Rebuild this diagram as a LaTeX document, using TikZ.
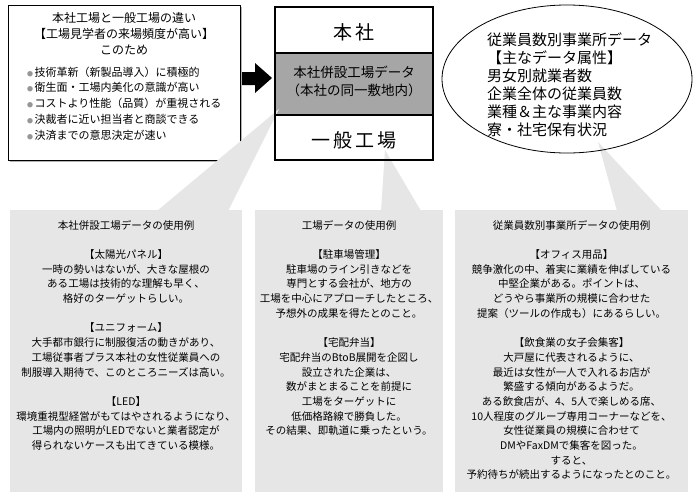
\documentclass[tikz,border=0pt]{standalone}
\usepackage{fontspec}
\setmainfont{Noto Sans CJK JP}
\usetikzlibrary{shapes.geometric}
\definecolor{panelgray}{RGB}{230,230,230}
\definecolor{midgray}{RGB}{166,166,166}
\definecolor{dotgray}{RGB}{150,150,150}
\newcommand\gdot{{\color{dotgray}\fontsize{6}{6}\selectfont ●}\hspace{1.5pt}}
\begin{document}
\begin{tikzpicture}[x=1pt,y=-1pt,
  every node/.style={inner sep=0pt,outer sep=0pt},
  panelbox/.style={fill=panelgray,minimum height=282pt},
  paneltext/.style={align=center,font=\fontsize{10.5}{14.7}\selectfont},
  stackpart/.style={minimum width=158pt},
  stackline/.style={line width=1.6pt}]
\useasboundingbox[fill=white] (0,0) rectangle (700,501);

% top-left box
\draw[gray!60,line width=1.2pt] (10,161) -- (241,161) -- (241,7);
\node[draw=black,line width=0.8pt,fill=white,minimum width=232pt,minimum height=155pt] (diff) at (124,82.5) {};
\node[align=center,font=\fontsize{12}{16}\selectfont] (difftitle) at (124,34)
  {本社工場と一般工場の違い\\【工場見学者の来場頻度が高い】\\このため};
\node[align=left,anchor=west,font=\fontsize{11}{15.8}\selectfont] (difflist) at (27,103.5)
  {\gdot 技術革新（新製品導入）に積極的\\
   \gdot 衛生面・工場内美化の意識が高い\\
   \gdot コストより性能（品質）が重視される\\
   \gdot 決裁者に近い担当者と商談できる\\
   \gdot 決済までの意思決定が速い};

% arrow
\fill[black] (242,72) -- (255,72) -- (255,63) -- (272,78) -- (255,93) -- (255,85) -- (242,85) -- cycle;

% stack fills
\node[stackpart,fill=white,minimum height=46pt] (hq) at (354,30) {};
\node[stackpart,fill=midgray,minimum height=62pt] (combo) at (354,84) {};
\node[stackpart,fill=white,minimum height=45pt] (general) at (354,137.5) {};
\node[font=\fontsize{19}{19}\selectfont] (hqlabel) at (354,32) {本\hspace{3pt}社};
\node[align=center,font=\fontsize{13.5}{18}\selectfont] (combolabel) at (354,81)
  {本社併設工場データ\\（本社の同一敷地内）};
\node[font=\fontsize{19}{19}\selectfont] (genlabel) at (354,140) {一\hspace{3pt}般\hspace{3pt}工\hspace{3pt}場};

% panels
\node[panelbox,minimum width=232pt] (ex1) at (126,351) {};
\node[panelbox,minimum width=188pt] (ex2) at (349,351) {};
\node[panelbox,minimum width=233pt] (ex3) at (571.5,351) {};

% callout tails
\fill[panelgray] (279,109) -- (157,211) -- (228,211) -- cycle;
\fill[panelgray] (385,150) -- (381,211) -- (421,211) -- cycle;
\fill[panelgray] (598,142) -- (617,211) -- (662,211) -- cycle;

% stack borders
\draw[stackline] (hq.north west) rectangle (general.south east);
\draw[stackline] (combo.north west) -- (combo.north east);
\draw[stackline] (combo.south west) -- (combo.south east);

% ellipse
\node[draw,ellipse,line width=0.8pt,minimum width=250pt,minimum height=148pt] (attr) at (567,79) {};
\node[align=left,anchor=west,font=\fontsize{15}{18}\selectfont] (attrtext) at (487,85)
  {従業員数別事業所データ\\【主なデータ属性】\\男女別就業者数\\企業全体の従業員数\\業種＆主な事業内容\\寮・社宅保有状況};

% panel texts
\node[paneltext] (ex1text) at (126,335.25)
  {本社併設工場データの使用例\\[14.7pt]
   【太陽光パネル】\\
   一時の勢いはないが、大きな屋根の\\
   ある工場は技術的な理解も早く、\\
   格好のターゲットらしい。\\[14.7pt]
   【ユニフォーム】\\
   大手都市銀行に制服復活の動きがあり、\\
   工場従事者プラス本社の女性従業員への\\
   制服導入期待で、このところニーズは高い。\\[14.7pt]
   【LED】\\
   環境重視型経営がもてはやされるようになり、\\
   工場内の照明がLEDでないと業者認定が\\
   得られないケースも出てきている模様。};
\node[paneltext] (ex2text) at (349,327.9)
  {工場データの使用例\\[14.7pt]
   【駐車場管理】\\
   駐車場のライン引きなどを\\
   専門とする会社が、地方の\\
   工場を中心にアプローチしたところ、\\
   予想外の成果を得たとのこと。\\[14.7pt]
   【宅配弁当】\\
   宅配弁当のBtoB展開を企図し\\
   設立された企業は、\\
   数がまとまることを前提に\\
   工場をターゲットに\\
   低価格路線で勝負した。\\
   その結果、即軌道に乗ったという。};
\node[paneltext] (ex3text) at (571.5,349.95)
  {従業員数別事業所データの使用例\\[14.7pt]
   【オフィス用品】\\
   競争激化の中、着実に業績を伸ばしている\\
   中堅企業がある。ポイントは、\\
   どうやら事業所の規模に合わせた\\
   提案（ツールの作成も）にあるらしい。\\[14.7pt]
   【飲食業の女子会集客】\\
   大戸屋に代表されるように、\\
   最近は女性が一人で入れるお店が\\
   繁盛する傾向があるようだ。\\
   ある飲食店が、4、5人で楽しめる席、\\
   10人程度のグループ専用コーナーなどを、\\
   女性従業員の規模に合わせて\\
   DMやFaxDMで集客を図った。\\
   すると、\\
   予約待ちが続出するようになったとのこと。};
\end{tikzpicture}
\end{document}
